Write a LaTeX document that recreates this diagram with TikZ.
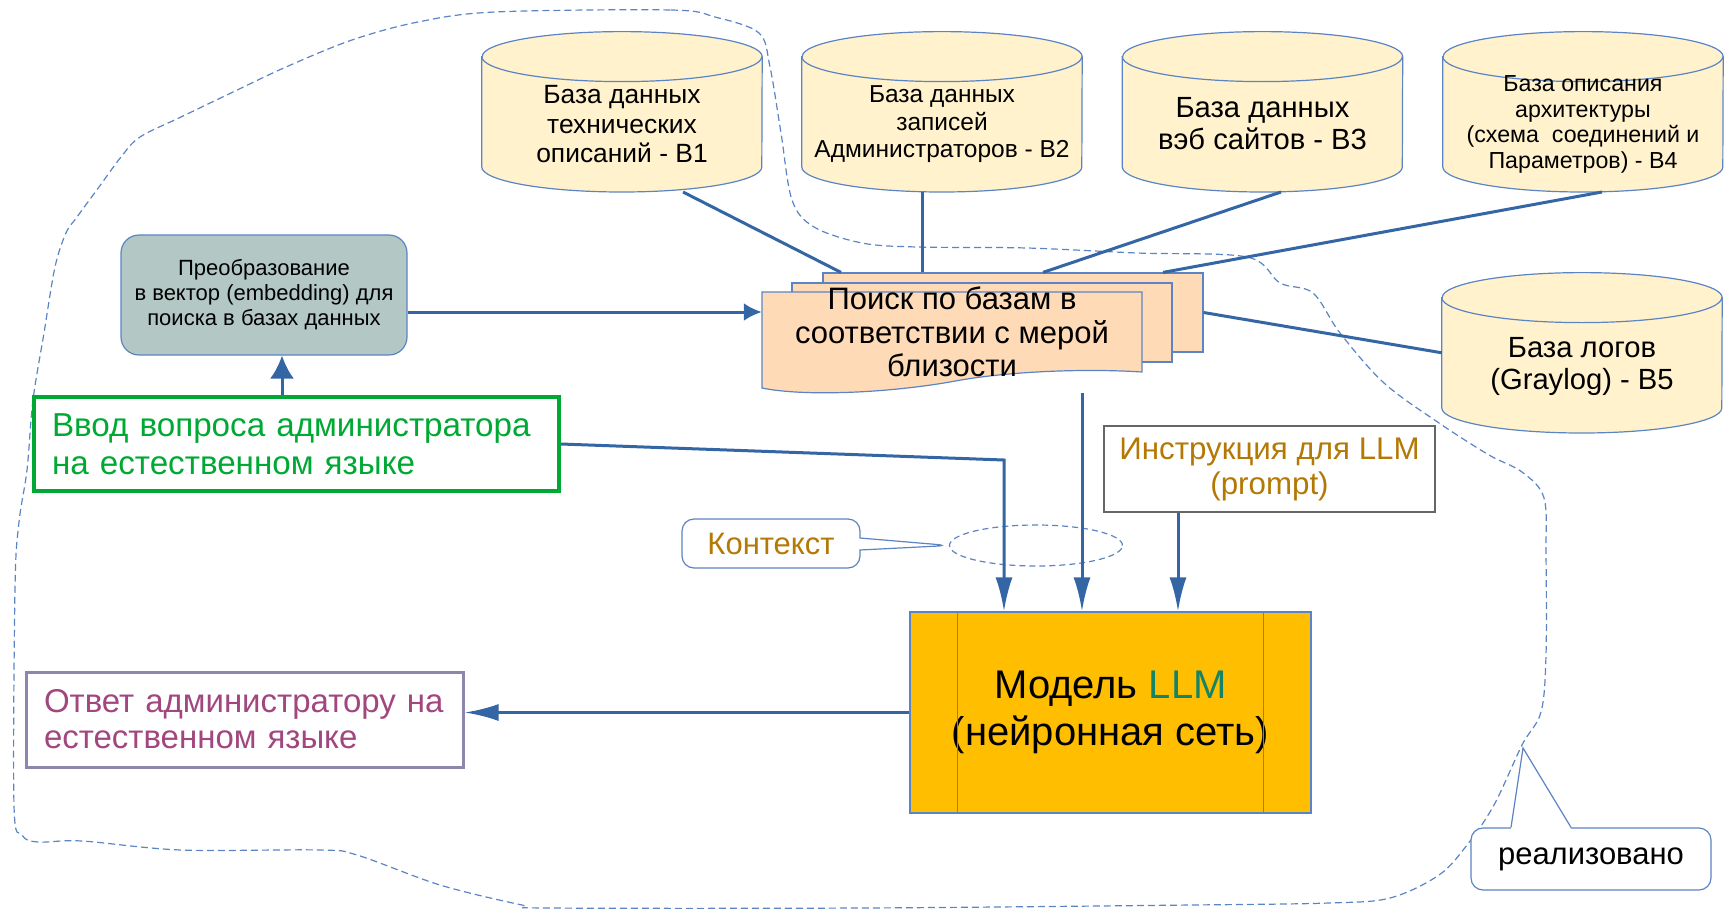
\documentclass[tikz,border=0pt]{standalone}
\usepackage{fontspec}
\setmainfont{Liberation Sans}
\usepackage{tikz}
\usetikzlibrary{shapes.geometric, shapes.callouts, arrows.meta}

\definecolor{lineblue}{HTML}{3465A4}
\definecolor{shapeblue}{HTML}{5B84C4}
\definecolor{dbfill}{HTML}{FFF2CC}
\definecolor{docfill}{HTML}{FFDAB6}
\definecolor{prepfill}{HTML}{B3C8C4}
\definecolor{qgreen}{HTML}{00A933}
\definecolor{ansborder}{HTML}{8E86AE}
\definecolor{anstext}{HTML}{A1467E}
\definecolor{gold}{HTML}{B47804}
\definecolor{llmteal}{HTML}{158466}
\definecolor{llmfill}{HTML}{FFBF00}

\tikzstyle{dbase} = [rectangle, minimum width=280pt, minimum height=160pt, inner sep=0pt, anchor=south]
\tikzstyle{dbshape} = [draw=shapeblue, fill=dbfill, line width=1.2pt]
\tikzstyle{dbtext} = [align=center, inner sep=0pt]
\tikzstyle{doc} = [rectangle, minimum width=380pt, minimum height=79pt, draw=shapeblue, fill=docfill, line width=1.2pt]
\tikzstyle{calloutbox} = [rectangle callout, rounded corners=12pt, draw=shapeblue, fill=white, line width=1.2pt, callout pointer width=12pt]
\tikzstyle{arrow} = [line width=3pt, draw=lineblue, -{Latex[length=34pt,width=17pt]}]
\tikzstyle{dbline} = [line width=3pt, draw=lineblue]
\tikzstyle{zone} = [draw=shapeblue, line width=1.2pt, dash pattern=on 7pt off 4pt]

% cylinder outline round a database node
\newcommand{\dbcyl}[1]{%
    \draw[dbshape] ([yshift=-25pt]#1.north west) -- ([yshift=25pt]#1.south west)
        arc[start angle=180, end angle=360, x radius=140pt, y radius=25pt]
        -- ([yshift=-25pt]#1.north east)
        arc[start angle=0, end angle=180, x radius=140pt, y radius=25pt] -- cycle;
    \draw[dbshape, fill=none] ([yshift=-25pt]#1.north west)
        arc[start angle=180, end angle=360, x radius=140pt, y radius=25pt];
}

\begin{document}
\begin{tikzpicture}[x=1pt, y=-1pt]
    \useasboundingbox (0,0) rectangle (1724,910);
    % dashed outline of the implemented part
    \draw[zone] plot[smooth cycle, tension=0.55] coordinates {
        (495,12) (671,10) (715,17) (759,33) (770,67) (781,133) (792,200) (814,227)
        (862,243) (917,247) (1027,248) (1137,253) (1247,257) (1280,283) (1313,293)
        (1340,333) (1384,383) (1439,423) (1489,455) (1522,472) (1544,498) (1546,555)
        (1546,655) (1541,712) (1522,745) (1494,805) (1467,845) (1439,875) (1390,898)
        (1329,903) (1192,905) (862,908) (550,908) (522,905) (440,885) (357,855)
        (319,850) (181,850) (82,841) (38,842) (22,835) (14,805) (15,588) (19,522)
        (27,470) (33,400) (44,333) (55,267) (66,233) (77,217) (99,187) (121,157)
        (140,137) (181,117) (231,93) (286,67) (352,40) (418,22)};

    % databases
    \node (b1) [dbase] at (622,192) {};
    \node (b2) [dbase] at (942,192) {};
    \node (b3) [dbase] at (1262.5,192) {};
    \node (b4) [dbase] at (1583,192) {};
    \node (b5) [dbase] at (1582,433) {};
    \dbcyl{b1} \dbcyl{b2} \dbcyl{b3} \dbcyl{b4} \dbcyl{b5}
    \node (b1text) [dbtext, font=\fontsize{26.4}{29.5}\selectfont] at (622,124.5) {База данных\\технических\\описаний - B1};
    \node (b2text) [dbtext, font=\fontsize{24.5}{27.5}\selectfont] at (942,124.5) {База данных\\записей\\Администраторов - B2};
    \node (b3text) [dbtext, font=\fontsize{29.2}{32}\selectfont] at (1262.5,124) {База данных\\вэб сайтов - B3};
    \node (b4text) [dbtext, font=\fontsize{23.2}{25.6}\selectfont] at (1583,124.5) {База описания\\архитектуры\\(схема\ \ соединений и\\Параметров) - B4};
    \node (b5text) [dbtext, font=\fontsize{29.2}{32}\selectfont] at (1582,366) {База логов\\(Graylog) - B5};

    % search over the databases
    \node (sback) [doc] at (1013,312.5) {};
    \node (smid) [doc] at (982,322.5) {};
    \draw[shapeblue, fill=docfill, line width=1.2pt] (762,292) -- (1142,292) -- (1142,372)
        .. controls (1080,368) and (1000,372) .. (950,382)
        .. controls (880,394) and (800,396) .. (762,388) -- cycle;
    \node (search) [minimum width=380pt, align=center, font=\fontsize{31}{33.5}\selectfont] at (952,332) {Поиск по базам в\\соответствии с мерой\\близости};

    \draw[dbline] ([xshift=61pt]b1.south) -- ([xshift=-172pt]sback.north);
    \draw[dbline] ([xshift=-20pt]b2.south) -- ([xshift=-91pt]sback.north);
    \draw[dbline] ([xshift=18.5pt]b3.south) -- ([xshift=30pt]sback.north);
    \draw[dbline] ([xshift=19pt]b4.south) -- ([xshift=150pt]sback.north);
    \draw[dbline] (sback.east) -- (b5.west);

    % question and embedding
    \node (prep) [rectangle, rounded corners=18pt, draw=shapeblue, fill=prepfill, line width=1.2pt, minimum width=286pt, minimum height=120pt, align=center, font=\fontsize{22}{25}\selectfont] at (264,295) {Преобразование\\в вектор (embedding) для\\поиска в базах данных};
    \node (question) [rectangle, draw=qgreen, line width=3.5pt, minimum width=525pt, minimum height=94pt, text width=489pt, align=left, text=qgreen, font=\fontsize{33.2}{38}\selectfont] at (296.5,444) {Ввод вопроса администратора\\на естественном языке};
    \coordinate (qup) at ([xshift=18pt]prep.south);
    \draw[arrow, -{Latex[length=23pt,width=24pt]}] (qup |- question.north) -- (qup);
    \draw[arrow, -{Latex[length=18pt,width=18pt]}] ([yshift=-17pt]prep.east) -- ([yshift=-17pt]prep.east -| search.west);

    % model
    \node (prompt) [rectangle, draw=black!60, line width=1.5pt, minimum width=331pt, minimum height=86pt, align=center, text=gold, font=\fontsize{31.3}{35}\selectfont] at (1269.5,469) {Инструкция для LLM\\(prompt)};
    \node (llm) [rectangle, draw=shapeblue, fill=llmfill, line width=1.2pt, minimum width=401pt, minimum height=201pt, align=center, font=\fontsize{40}{47}\selectfont] at (1110.5,712.5) {Модель \textcolor{llmteal}{LLM}\\(нейронная сеть)};
    \draw[shapeblue, line width=1pt] ([xshift=48pt]llm.north west) -- ([xshift=48pt]llm.south west);
    \draw[shapeblue, line width=1pt] ([xshift=-48pt]llm.north east) -- ([xshift=-48pt]llm.south east);
    \node (answer) [rectangle, draw=ansborder, line width=3pt, minimum width=437pt, minimum height=95pt, text width=401pt, align=left, text=anstext, font=\fontsize{33}{36}\selectfont] at (244.5,719.5) {Ответ администратору на\\естественном языке};

    \node (ctxell) [ellipse, draw=shapeblue, line width=1.2pt, dash pattern=on 6pt off 4pt, minimum width=173pt, minimum height=41pt] at (1036,545.5) {};
    \node (ctx) [calloutbox, minimum width=178pt, minimum height=49pt, text=gold, font=\fontsize{31}{32}\selectfont, callout absolute pointer={(ctxell.west)}] at (771,543.5) {Контекст};

    \coordinate (qbend) at (1004,460);
    \coordinate (sout) at (1082,393);
    \coordinate (pout) at ([xshift=-91.5pt]prompt.south);
    \draw[arrow] (question.east) -- (qbend) -- (qbend |- llm.north);
    \draw[arrow] (sout) -- (sout |- llm.north);
    \draw[arrow] (pout) -- (pout |- llm.north);
    \draw[arrow] (llm.west) -- (llm.west -| answer.east);

    % note "implemented"
    \coordinate (donetip) at (1523,748);
    \node (done) [rectangle, rounded corners=12pt, draw=shapeblue, fill=white, line width=1.2pt, minimum width=240pt, minimum height=62pt, font=\fontsize{31}{32}\selectfont] at (1591,859) {реализовано};
    \fill[white] ([xshift=-80pt, yshift=-1.5pt]done.north) -- (donetip) -- ([xshift=-20pt, yshift=-1.5pt]done.north) -- cycle;
    \draw[shapeblue, line width=1.2pt] ([xshift=-80pt]done.north) -- (donetip) -- ([xshift=-20pt]done.north);
\end{tikzpicture}
\end{document}
